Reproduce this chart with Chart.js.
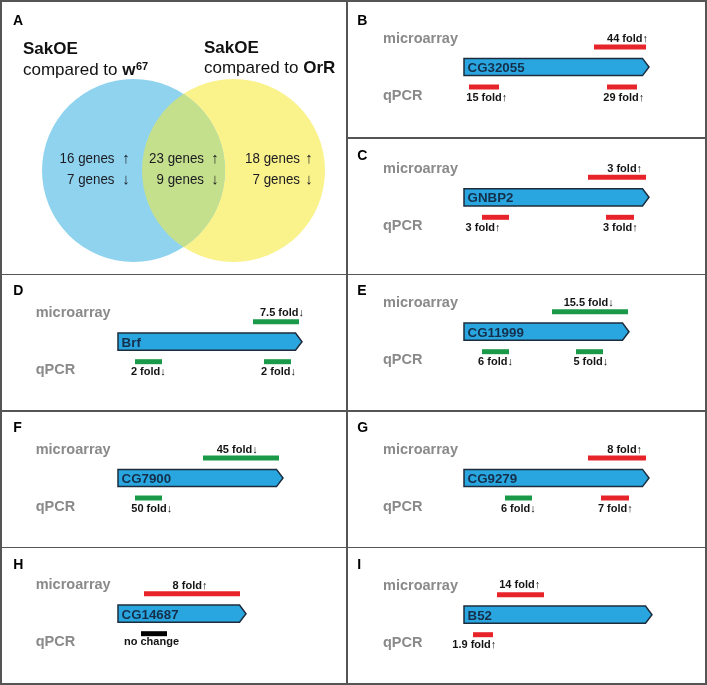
<!DOCTYPE html>
<html>
<head>
<meta charset="utf-8">
<script src="https://cdn.jsdelivr.net/npm/chart.js@4.4.1/dist/chart.umd.min.js"></script>
<style>
  html, body { margin: 0; padding: 0; background: #fff; }
  #wrap { position: relative; width: 707px; height: 685px; background: #fff; overflow: hidden; }
  #wrap canvas { position: absolute; }
  .ln { position: absolute; background: #555; z-index: 5; }
</style>
</head>
<body>
<div id="wrap"></div>
<script>
// ---------------- DATA ----------------
// Panel A (Venn): gene counts in the three regions (left only, overlap, right only)
const vennTitles = ['SakOE', 'SakOE'];
const vennSubtitles = ['compared to ', 'compared to '];
const vennRefs = ['w', 'OrR'];
const vennRefSup = ['67', ''];
const vennUp = [16, 23, 18];
const vennDown = [7, 9, 7];

// Panels B-I: gene schematics (positions in gene units from the gene start)
const panelIds = ['B', 'C', 'D', 'E', 'F', 'G', 'H', 'I'];
const geneNames = ['CG32055', 'GNBP2', 'Brf', 'CG11999', 'CG7900', 'CG9279', 'CG14687', 'B52'];
const geneLengths = [185, 185, 184, 165, 165, 185, 128, 188];
const microStart = [130, 124, 135, 88, 85, 124, 26, 33];
const microEnd = [182, 182, 181, 164, 161, 182, 122, 80];
const microFold = [44, 3, 7.5, 15.5, 45, 8, 8, 14];
const microDir = ['up', 'up', 'down', 'down', 'down', 'up', 'up', 'up'];
const qpcrStart = [[5, 143], [18, 142], [17, 146], [18, 112], [17], [41, 137], [23], [9]];
const qpcrEnd = [[35, 173], [45, 170], [44, 173], [45, 139], [44], [68, 165], [49], [29]];
const qpcrFold = [[15, 29], [3, 3], [2, 2], [6, 5], [50], [6, 7], [null], [1.9]];
const qpcrDir = [['up', 'up'], ['up', 'up'], ['down', 'down'], ['down', 'down'], ['down'], ['down', 'up'], ['none'], ['up']];

// ---------------- LAYOUT / STYLE (not data) ----------------
const FONT = '"Liberation Sans", Arial, Helvetica, sans-serif';
const dirColor = { up: '#e8242b', down: '#1a9a48', none: '#000000' };
const arrowChar = { up: '\u2191', down: '\u2193' };
const panelBox = {
  A: { left: 0, top: 0, width: 347, height: 274 },
  B: { left: 347, top: 0, width: 360, height: 138 },
  C: { left: 347, top: 138, width: 360, height: 136 },
  D: { left: 0, top: 274, width: 347, height: 137 },
  E: { left: 347, top: 274, width: 360, height: 137 },
  F: { left: 0, top: 411, width: 347, height: 136 },
  G: { left: 347, top: 411, width: 360, height: 136 },
  H: { left: 0, top: 547, width: 347, height: 138 },
  I: { left: 347, top: 547, width: 360, height: 138 }
};
const geneCenterY = [67, 59.3, 67.7, 57.7, 67, 67, 66.7, 67.7];
const letterBaseline = { A: 25, B: 25, C: 22, D: 21, E: 21, F: 20.7, G: 21, H: 22, I: 22 };
const microLabelX = [163.5, 160.7, 164, 124.7, 119.2, 160.7, 72, 55.7];
const qpcrLabelX = [[22.8, 159.8], [19, 156.3], [30.3, 160.5], [31.5, 126.8], [33.8], [54.3, 151.3], [33.5], [10.3]];
const microLabelDy = [-5.5, -5.5, -5.5, -5.5, -5.5, -5.5, -5.2, -7];
const qpcrLabelDy = [13.8, 14, 13.5, 13.5, 13.5, 13.5, 11.5, 13.5];
const ROW = 20; // px per row

const wrap = document.getElementById('wrap');
function makeCanvas(id) {
  const b = panelBox[id];
  const c = document.createElement('canvas');
  c.width = b.width; c.height = b.height;
  c.style.left = b.left + 'px'; c.style.top = b.top + 'px';
  c.style.width = b.width + 'px'; c.style.height = b.height + 'px';
  wrap.appendChild(c);
  return c;
}
function addLine(l, t, w, h) {
  const d = document.createElement('div');
  d.className = 'ln';
  d.style.left = l + 'px'; d.style.top = t + 'px';
  d.style.width = w + 'px'; d.style.height = h + 'px';
  wrap.appendChild(d);
}

const baseOpts = {
  responsive: false, animation: false, events: [],
  layout: { padding: 0, autoPadding: false },
  plugins: { legend: { display: false }, tooltip: { enabled: false } }
};

// ---------------- PANEL A: Venn ----------------
(function () {
  const b = panelBox.A;
  const canvas = makeCanvas('A');
  const circles = [ { x: 133.5, y: 170.5, r: 91.5 }, { x: 233.5, y: 170.5, r: 91.5 } ];
  const fills = ['#8fd3ef', '#faf28b'];
  const lensFill = '#c5e08d';
  const vennPlugin = {
    id: 'venn',
    afterDatasetsDraw(chart) {
      const ctx = chart.ctx, xs = chart.scales.x, ys = chart.scales.y;
      const p = circles.map(c => ({ x: xs.getPixelForValue(c.x), y: ys.getPixelForValue(c.y), r: c.r }));
      ctx.save();
      ctx.beginPath(); ctx.arc(p[0].x, p[0].y, p[0].r, 0, Math.PI * 2); ctx.clip();
      ctx.beginPath(); ctx.arc(p[1].x, p[1].y, p[1].r, 0, Math.PI * 2);
      ctx.fillStyle = lensFill; ctx.fill();
      ctx.restore();
      ctx.save();
      ctx.fillStyle = '#000'; ctx.font = 'bold 14px ' + FONT; ctx.textBaseline = 'alphabetic';
      ctx.fillText('A', 13, letterBaseline.A);
      const tx = [23, 204], tb = [53.5, 52.5], sb = [74.5, 72.5];
      for (let i = 0; i < 2; i++) {
        ctx.font = 'bold 17px ' + FONT; ctx.fillStyle = '#111';
        ctx.textAlign = 'left';
        ctx.fillText(vennTitles[i], tx[i], tb[i]);
        ctx.font = '17px ' + FONT;
        ctx.fillText(vennSubtitles[i], tx[i], sb[i]);
        let x = tx[i] + ctx.measureText(vennSubtitles[i]).width;
        ctx.font = 'bold 17px ' + FONT;
        ctx.fillText(vennRefs[i], x, sb[i]);
        x += ctx.measureText(vennRefs[i]).width;
        if (vennRefSup[i]) { ctx.font = 'bold 11px ' + FONT; ctx.fillText(vennRefSup[i], x + 0.5, sb[i] - 5); }
      }
      // counts: text then arrow, horizontally condensed font
      ctx.fillStyle = '#1b1b22';
      const textEnd = [114.5, 204, 300];
      const arrowC = [126, 215, 309];
      const rows = [163.3, 184.3];
      for (let i = 0; i < 3; i++) {
        const vals = [vennUp[i], vennDown[i]];
        const ar = [arrowChar.up, arrowChar.down];
        for (let r = 0; r < 2; r++) {
          ctx.save();
          ctx.translate(textEnd[i], rows[r]);
          ctx.scale(0.89, 1);
          ctx.font = '15px ' + FONT; ctx.textAlign = 'right';
          ctx.fillText(vals[r] + ' genes', 0, 0);
          ctx.restore();
          ctx.save();
          ctx.font = '15px ' + FONT; ctx.textAlign = 'center';
          ctx.fillText(ar[r], arrowC[i], rows[r]);
          ctx.restore();
        }
      }
      ctx.restore();
    }
  };
  new Chart(canvas, {
    type: 'bubble',
    data: {
      datasets: circles.map((c, i) => ({
        data: [{ x: c.x, y: c.y, r: c.r }],
        backgroundColor: fills[i], borderWidth: 0, hoverRadius: 0
      }))
    },
    options: Object.assign({}, baseOpts, {
      clip: false,
      scales: {
        x: { type: 'linear', display: false, min: 0, max: b.width },
        y: { type: 'linear', display: false, min: 0, max: b.height, reverse: true }
      }
    }),
    plugins: [vennPlugin]
  });
})();

// ---------------- PANELS B-I: gene schematics ----------------
panelIds.forEach((id, k) => {
  const b = panelBox[id];
  const leftCol = b.left === 0;
  const x0 = leftCol ? 118 : 117;
  const rowLabelX = leftCol ? 35.7 : 36;
  const letterX = leftCol ? 13.3 : 10.3;
  const yMax = geneCenterY[k] / ROW;
  const yMin = yMax - b.height / ROW;
  const canvas = makeCanvas(id);

  const datasets = [];
  datasets.push({
    data: [{ x: microStart[k], y: 1 }, { x: microEnd[k], y: 1 }],
    borderColor: dirColor[microDir[k]]
  });
  qpcrStart[k].forEach((s, j) => {
    datasets.push({
      data: [{ x: s, y: -1 }, { x: qpcrEnd[k][j], y: -1 }],
      borderColor: dirColor[qpcrDir[k][j]]
    });
  });
  datasets.forEach(d => Object.assign(d, {
    showLine: true, borderWidth: 5, pointRadius: 0, pointHoverRadius: 0,
    borderCapStyle: 'butt', fill: false, tension: 0
  }));

  const genePlugin = {
    id: 'gene' + id,
    beforeDatasetsDraw(chart) {
      const ctx = chart.ctx, xs = chart.scales.x, ys = chart.scales.y;
      const len = geneLengths[k];
      const xa = xs.getPixelForValue(0), xb = xs.getPixelForValue(len - 6.5), xc = xs.getPixelForValue(len);
      const yt = ys.getPixelForValue(0.43), yb = ys.getPixelForValue(-0.43), yc = ys.getPixelForValue(0);
      ctx.save();
      ctx.beginPath();
      ctx.moveTo(xa, yt); ctx.lineTo(xb, yt); ctx.lineTo(xc, yc); ctx.lineTo(xb, yb); ctx.lineTo(xa, yb);
      ctx.closePath();
      ctx.fillStyle = '#29a6df'; ctx.fill();
      ctx.lineWidth = 1.5; ctx.strokeStyle = '#1c2c3c'; ctx.lineJoin = 'miter'; ctx.stroke();
      ctx.font = 'bold 13.3px ' + FONT; ctx.fillStyle = '#152f4b'; ctx.textAlign = 'left';
      ctx.fillText(geneNames[k], xa + 3.6, ys.getPixelForValue(-0.25));
      ctx.restore();
    },
    afterDatasetsDraw(chart) {
      const ctx = chart.ctx, xs = chart.scales.x, ys = chart.scales.y;
      ctx.save();
      ctx.textBaseline = 'alphabetic';
      ctx.font = 'bold 14px ' + FONT; ctx.fillStyle = '#000'; ctx.textAlign = 'left';
      ctx.fillText(id, letterX, letterBaseline[id]);
      ctx.font = 'bold 14.5px ' + FONT; ctx.fillStyle = '#8a8a8a';
      ctx.fillText('microarray', rowLabelX, ys.getPixelForValue(1) - 4.5);
      ctx.fillText('qPCR', rowLabelX, ys.getPixelForValue(-1) + 12.5);
      ctx.font = 'bold 11px ' + FONT; ctx.fillStyle = '#141414'; ctx.textAlign = 'center';
      ctx.fillText(microFold[k] + ' fold' + arrowChar[microDir[k]],
        xs.getPixelForValue(microLabelX[k]), ys.getPixelForValue(1) + microLabelDy[k]);
      qpcrFold[k].forEach((f, j) => {
        const d = qpcrDir[k][j];
        const txt = d === 'none' ? 'no change' : f + ' fold' + arrowChar[d];
        ctx.fillText(txt, xs.getPixelForValue(qpcrLabelX[k][j]), ys.getPixelForValue(-1) + qpcrLabelDy[k]);
      });
      ctx.restore();
    }
  };

  new Chart(canvas, {
    type: 'scatter',
    data: { datasets },
    options: Object.assign({}, baseOpts, {
      clip: false,
      scales: {
        x: { type: 'linear', display: false, min: -x0, max: b.width - x0 },
        y: { type: 'linear', display: false, min: yMin, max: yMax }
      }
    }),
    plugins: [genePlugin]
  });
});

// ---------------- panel frame lines ----------------
addLine(0, 0, 706.5, 1.5);
addLine(0, 683, 706.5, 1.5);
addLine(0, 0, 1.5, 684.5);
addLine(705, 0, 1.5, 684.5);
addLine(346.3, 0, 1.5, 684.5);
[137, 273.6, 410.3, 546.6].forEach(y => addLine(347, y, 359, 1.5));
[273.6, 410, 546.6].forEach(y => addLine(0, y, 347, 1.5));
</script>
</body>
</html>
